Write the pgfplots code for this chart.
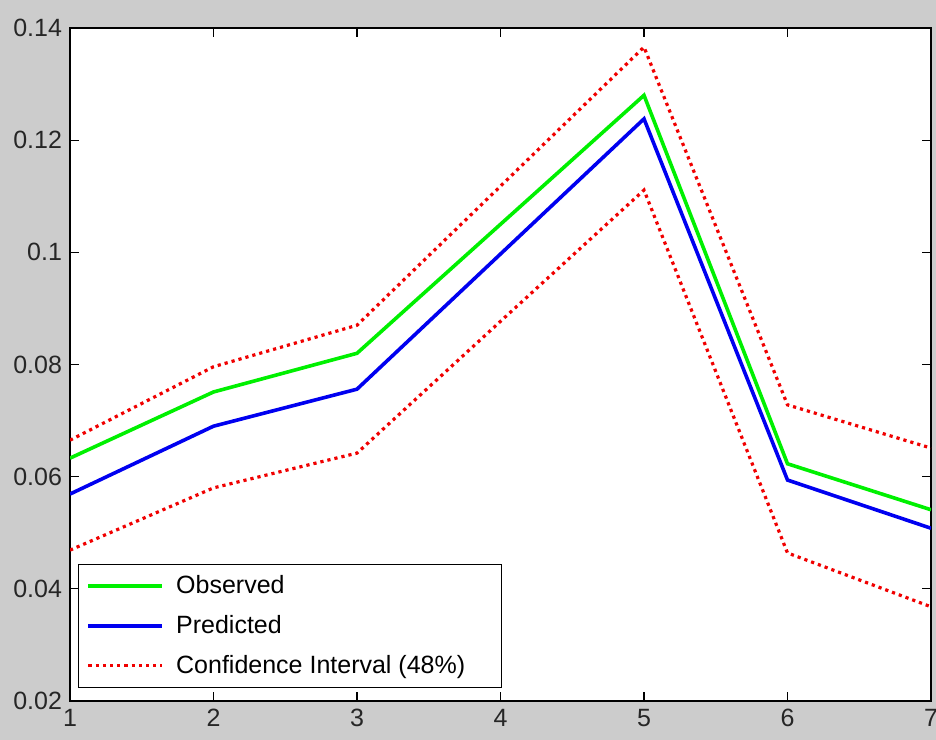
\documentclass[border=0pt]{standalone}
\usepackage{pgfplots}
\pgfplotsset{compat=1.18}
\usepackage{fontspec}
\setmainfont{Liberation Sans}
\definecolor{figgray}{RGB}{204,204,204}
\begin{document}
\begin{tikzpicture}
\clip (-35bp,-19.5bp) rectangle (433bp,350.5bp);
\fill[figgray] (-35bp,-19.5bp) rectangle (433bp,350.5bp);
\begin{axis}[
  at={(0,0)}, anchor=south west,
  scale only axis, width=430.5bp, height=336.5bp,
  xmin=1, xmax=7, ymin=0.02, ymax=0.14,
  xtick={1,2,3,4,5,6,7},
  ytick={0.02,0.04,0.06,0.08,0.1,0.12,0.14},
  yticklabels={0.02,0.04,0.06,0.08,0.1,0.12,0.14},
  tick align=inside, major tick length=4.5bp,
  tick style={black, line width=0.6bp},
  axis line style={black, line width=0.6bp},
  axis background/.style={fill=white},
  /pgf/number format/assume math mode=true,
  tick label style={font=\fontsize{12.5bp}{14bp}\selectfont, text=black!85},
  xticklabel style={yshift=-0.5bp},
  yticklabel style={xshift=-0.5bp},
  legend style={at={(axis description cs:0.0093,0.0193)}, anchor=south west,
    draw=black, line width=0.6bp, fill=white,
    font=\fontsize{12.5bp}{14bp}\selectfont,
    inner xsep=4bp, inner ysep=3.5bp, row sep=5.5bp},
  legend cell align=left,
  legend image code/.code={\draw[#1] (0bp,0bp) -- (37bp,0bp); \path (41bp,0bp);},
]
\addplot[color={rgb,255:red,0;green,240;blue,0}, line width=1.8bp] coordinates {
 (1,0.0633) (2,0.0751) (3,0.0820) (4,0.1050) (5,0.1280) (6,0.0623) (7,0.0541)};
\addlegendentry{Observed}
\addplot[color={rgb,255:red,0;green,0;blue,240}, line width=1.8bp] coordinates {
 (1,0.0569) (2,0.0690) (3,0.0756) (4,0.0997) (5,0.1238) (6,0.0594) (7,0.0508)};
\addlegendentry{Predicted}
\addplot[color={rgb,255:red,240;green,0;blue,0}, line width=1.6bp, dash pattern=on 1.6bp off 2bp] coordinates {
 (1,0.0665) (2,0.0796) (3,0.0870) (4,0.1118) (5,0.1366) (6,0.0728) (7,0.0651)};
\addlegendentry{Confidence Interval (48\%)\rule{12bp}{0pt}}
\addplot[color={rgb,255:red,240;green,0;blue,0}, line width=1.6bp, dash pattern=on 1.6bp off 2bp, forget plot] coordinates {
 (1,0.0469) (2,0.0580) (3,0.0642) (4,0.0877) (5,0.1111) (6,0.0464) (7,0.0368)};
\end{axis}
\end{tikzpicture}
\end{document}
